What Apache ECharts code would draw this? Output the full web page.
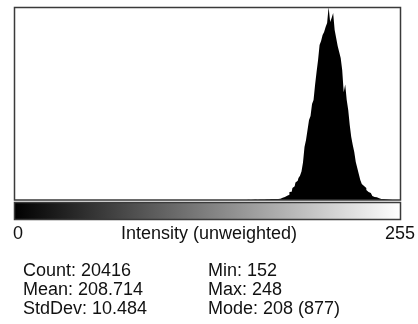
<!DOCTYPE html>
<html>
<head>
<meta charset="utf-8">
<script src="https://cdn.jsdelivr.net/npm/echarts@6/dist/echarts.min.js"></script>
<style>
html,body{margin:0;padding:0;background:#fff;}
#c{width:418px;height:324px;}
</style>
</head>
<body>
<div id="c"></div>
<script>
// Histogram data (bins 0..255), non-zero range starts at firstBin
const firstBin = 152;
const counts = [
  1,0,1,1,0,1,1,2,1,2,2,2,3,2,3,3,3,4,4,4,4,5,
  5,6,9,10,14,16,19,24,36,38,55,62,80,88,100,110,
  130,170,241,273,318,364,382,436,454,523,
  582,636,704,722,750,763,786,804,
  877,
  809,827,850,772,736,700,672,645,591,490,525,
  454,409,341,286,250,218,173,145,118,91,
  73,64,55,45,36,32,23,18,14,12,9,8,5,4,5,3,4,2,1
];
const axisMinLabel = '0';
const axisMaxLabel = '255';
const axisTitle = 'Intensity (unweighted)';
const statsLeft = ['Count: 20416', 'Mean: 208.714', 'StdDev: 10.484'];
const statsRight = ['Min: 152', 'Max: 248', 'Mode: 208 (877)'];
const modeCount = 877;

const bins = [];
const values = [];
for (let i = 0; i < 256; i++) {
  bins.push(String(i));
  const k = i - firstBin;
  values.push(k >= 0 && k < counts.length ? counts[k] : 0);
}

const chart = echarts.init(document.getElementById('c'), null, {renderer: 'canvas'});
const font = '"Liberation Sans", Arial, sans-serif';
const txt = (text, x, y, align) => ({
  type: 'text', x: x, y: y, z: 10,
  style: {text: text, fill: '#111', font: '18px ' + font, align: align || 'left', verticalAlign: 'middle'}
});
const graphics = [
  {type: 'rect', z: 10, shape: {x: 14.5, y: 7.5, width: 386, height: 192.5},
   style: {fill: 'none', stroke: '#3a3a3a', lineWidth: 1.5}},
  {type: 'rect', z: 10, shape: {x: 14.5, y: 202.5, width: 386, height: 17},
   style: {stroke: '#3a3a3a', lineWidth: 1.5,
     fill: new echarts.graphic.LinearGradient(0, 0, 1, 0, [
       {offset: 0, color: '#000'}, {offset: 1, color: '#fff'}])}},
  txt(axisMinLabel, 13, 234, 'left'),
  txt(axisTitle, 209, 234, 'center'),
  txt(axisMaxLabel, 415, 234, 'right')
];
statsLeft.forEach((s, i) => graphics.push(txt(s, 23, [271.5, 290.5, 309][i], 'left')));
statsRight.forEach((s, i) => graphics.push(txt(s, 208, [271.5, 290.5, 309][i], 'left')));

chart.setOption({
  animation: false,
  backgroundColor: '#fff',
  grid: {left: 15, top: 7, width: 386, height: 193, show: false},
  xAxis: {type: 'category', data: bins, boundaryGap: true, show: false},
  yAxis: {type: 'value', min: 0, max: modeCount, show: false},
  series: [{
    type: 'line', data: values, step: 'middle', symbol: 'none',
    lineStyle: {width: 0, color: '#000'},
    areaStyle: {color: '#000', opacity: 1}
  }],
  graphic: graphics
});
</script>
</body>
</html>
